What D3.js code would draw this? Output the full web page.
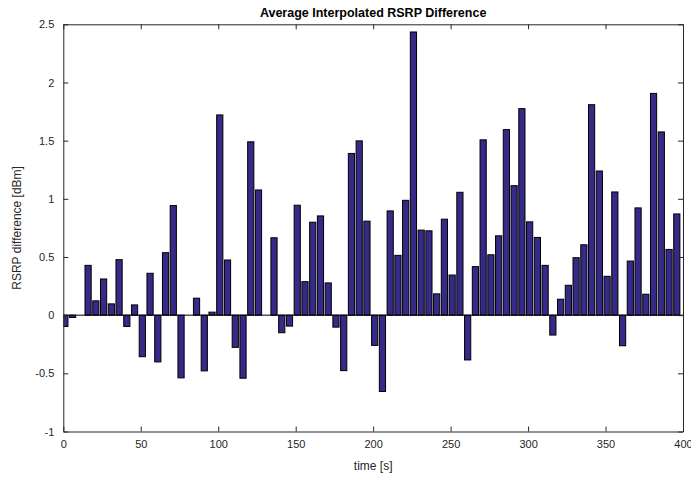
<!DOCTYPE html>
<html>
<head>
<meta charset="utf-8">
<script src="https://cdn.jsdelivr.net/npm/d3@7"></script>
<style>
body{margin:0;background:#fff;}
svg text{font-family:"Liberation Sans",Arial,sans-serif;}
</style>
</head>
<body>
<svg width="691" height="479"></svg>
<script>
// tijdstippen (s), een balk per 5 s
var times = d3.range(80).map(function(i){ return 1 + 5*i; });
var diffs = [
 -0.097,-0.02,0,0.428,0.123,0.311,0.097,0.477,-0.097,0.088,
 -0.357,0.36,-0.402,0.537,0.942,-0.539,0,0.146,-0.479,0.026,
 1.721,0.474,-0.277,-0.542,1.49,1.076,0,0.665,-0.151,-0.094,
 0.945,0.288,0.799,0.853,0.277,-0.103,-0.477,1.39,1.498,0.808,
 -0.26,-0.656,0.896,0.514,0.987,2.434,0.731,0.725,0.183,0.825,
 0.345,1.056,-0.385,0.417,1.507,0.519,0.682,1.595,1.113,1.775,
 0.802,0.668,0.428,-0.171,0.137,0.257,0.494,0.605,1.809,1.239,
 0.334,1.059,-0.263,0.465,0.922,0.18,1.906,1.575,0.565,0.87
];
var xTicks = [0,50,100,150,200,250,300,350,400];
var yTicks = [-1,-0.5,0,0.5,1,1.5,2,2.5];

var pL = 63.3, pR = 683, pT = 24.3, pB = 431.5;
var svg = d3.select("svg");

var x = d3.scaleLinear().domain([0,400]).range([pL,pR]);
var y = d3.scaleLinear().domain([-1,2.5]).range([pB,pT]);

svg.append("defs").append("clipPath").attr("id","clip")
  .append("rect").attr("x",pL).attr("y",pT).attr("width",pR-pL).attr("height",pB-pT);

var barW = x(4) - x(0);
var g = svg.append("g").attr("clip-path","url(#clip)");
g.selectAll("rect.bar")
  .data(diffs)
  .enter()
  .append("rect")
  .attr("class","bar")
  .attr("x",function(d,i){ return x(times[i]) - barW/2; })
  .attr("y",function(d){ return d >= 0 ? y(d) : y(0); })
  .attr("width",barW)
  .attr("height",function(d){ return Math.abs(y(d) - y(0)); })
  .attr("fill","#352a87")
  .attr("stroke","#000")
  .attr("stroke-width",1);

// basislijn
g.append("line")
  .attr("x1",pL).attr("x2",pR)
  .attr("y1",y(0)).attr("y2",y(0))
  .attr("stroke","#000").attr("stroke-width",1);

var axisCol = "#262626";
var tl = 5;
// gewone min-teken zoals in matlab
var fmt = function(d){ return String(d); };

// onder / links met labels
svg.append("g").attr("transform","translate(0,"+pB+")")
  .call(d3.axisBottom(x).tickValues(xTicks).tickSizeInner(-tl).tickSizeOuter(0).tickPadding(9)
    .tickFormat(fmt))
  .call(function(a){
    a.select(".domain").attr("stroke",axisCol);
    a.selectAll(".tick line").attr("stroke",axisCol);
    a.selectAll("text").attr("font-size",11).attr("fill","#262626");
  });

svg.append("g").attr("transform","translate("+pL+",0)")
  .call(d3.axisLeft(y).tickValues(yTicks).tickSizeInner(-tl).tickSizeOuter(0).tickPadding(9)
    .tickFormat(fmt))
  .call(function(a){
    a.select(".domain").attr("stroke",axisCol);
    a.selectAll(".tick line").attr("stroke",axisCol);
    a.selectAll("text").attr("font-size",11).attr("fill","#262626");
  });

// boven / rechts zonder labels
svg.append("g").attr("transform","translate(0,"+pT+")")
  .call(d3.axisTop(x).tickValues(xTicks).tickSizeInner(-tl).tickSizeOuter(0).tickFormat(""))
  .call(function(a){
    a.select(".domain").attr("stroke",axisCol);
    a.selectAll(".tick line").attr("stroke",axisCol);
  });
svg.append("g").attr("transform","translate("+pR+",0)")
  .call(d3.axisRight(y).tickValues(yTicks).tickSizeInner(-tl).tickSizeOuter(0).tickFormat(""))
  .call(function(a){
    a.select(".domain").attr("stroke",axisCol);
    a.selectAll(".tick line").attr("stroke",axisCol);
  });

svg.append("text")
  .attr("x",(pL+pR)/2).attr("y",17)
  .attr("text-anchor","middle")
  .attr("font-size",12.5).attr("font-weight","bold").attr("fill","#000")
  .text("Average Interpolated RSRP Difference");

svg.append("text")
  .attr("x",(pL+pR)/2).attr("y",470)
  .attr("text-anchor","middle")
  .attr("font-size",12).attr("fill","#262626")
  .text("time [s]");

svg.append("text")
  .attr("transform","translate(21,"+((pT+pB)/2)+") rotate(-90)")
  .attr("text-anchor","middle")
  .attr("font-size",12).attr("fill","#262626")
  .text("RSRP difference [dBm]");
</script>
</body>
</html>
